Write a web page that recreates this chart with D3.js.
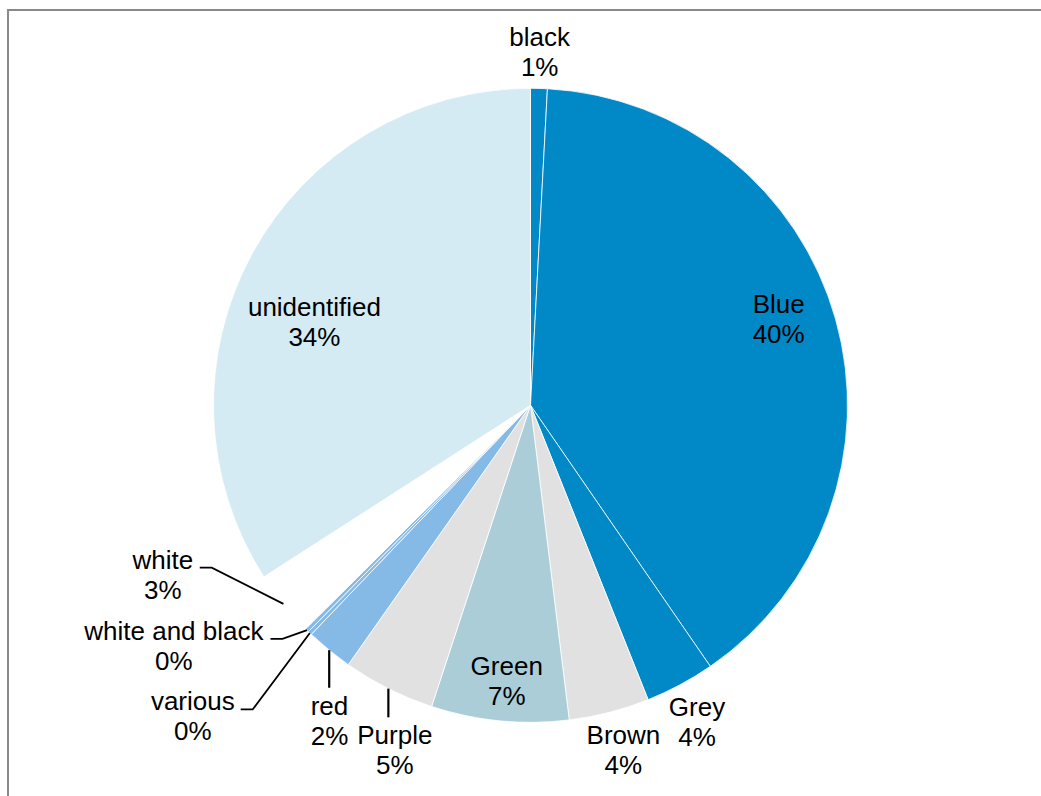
<!DOCTYPE html>
<html>
<head>
<meta charset="utf-8">
<script src="https://cdn.jsdelivr.net/npm/d3@7"></script>
<style>
  html, body { margin: 0; padding: 0; background: #ffffff; }
  svg { display: block; }
  text { font-family: "Liberation Sans", Arial, sans-serif; font-size: 26px; fill: #000; }
</style>
</head>
<body>
<svg id="chart" width="1041" height="796"></svg>
<script>
// Colour of item found, share of all items (percent)
const categories = ["black", "Blue", "Grey", "Brown", "Green", "Purple", "red",
                    "various", "white and black", "white", "unidentified"];
const shares = [0.85, 39.55, 3.55, 4.1, 7.0, 4.7, 2.4, 0.2, 0.2, 3.35, 34.1];
const sliceColors = ["#0089c6", "#0089c6", "#0089c6", "#e1e1e1", "#aacdd8", "#e1e1e1",
                     "#85bae7", "#85bae7", "#85bae7", "#ffffff", "#d4ebf4"];

// Label placement: turn from the slice's mid-angle (degrees), distance as a fraction of the radius,
// and how the leader line reaches the slice
const labelTurn   = [0, -1.55, 1.1, -0.3, -0.8, -5.67, -7.64, 2.43, 10.2, 12.9, -9.6];
const labelRadius = [1.085, 0.82, 1.154, 1.155, 0.901, 1.196, 1.204, 1.468, 1.373, 1.289, 0.721];
const leaderKind  = ["none", "none", "none", "none", "none", "drop", "drop",
                     "elbow", "elbow", "elbow", "none"];

const width = 1041, height = 796;
const cx = 530.5, cy = 405.3, radius = 317;
const lineGap = 30;

const svg = d3.select("#chart");

// Outer frame (only the top and left edges fall inside the view)
svg.append("rect")
  .attr("x", 8).attr("y", 10)
  .attr("width", width + 20).attr("height", height + 20)
  .attr("fill", "none")
  .attr("stroke", "#898989")
  .attr("stroke-width", 2);

const data = categories.map((c, i) => ({
  name: c, value: shares[i], color: sliceColors[i],
  turn: labelTurn[i], k: labelRadius[i], leader: leaderKind[i]
}));
const total = d3.sum(shares);

const pie = d3.pie().sort(null).value(d => d.value).startAngle(0).endAngle(2 * Math.PI);
const arcs = pie(data);
const arc = d3.arc().innerRadius(0).outerRadius(radius);

const g = svg.append("g").attr("transform", `translate(${cx},${cy})`);

g.selectAll("path.slice")
  .data(arcs)
  .join("path")
  .attr("class", "slice")
  .attr("d", arc)
  .attr("fill", d => d.data.color)
  .attr("stroke", "#ffffff")
  .attr("stroke-width", 0.8)
  .attr("stroke-linejoin", "round");

const polar = (angle, r) => [r * Math.sin(angle), -r * Math.cos(angle)];
const pct = v => Math.round(v / total * 100) + "%";

const labels = g.append("g");
const leaders = g.append("g");

arcs.forEach(a => {
  const d = a.data;
  const mid = (a.startAngle + a.endAngle) / 2;
  const [lx, ly] = polar(mid + d.turn * Math.PI / 180, radius * d.k);
  const base1 = ly - lineGap / 2;
  const base2 = ly + lineGap / 2;

  const t = labels.append("text").attr("text-anchor", "middle");
  t.append("tspan").attr("x", lx).attr("y", base1).text(d.name);
  t.append("tspan").attr("x", lx).attr("y", base2).text(pct(d.value));

  const [ax, ay] = polar(mid, radius);
  if (d.leader === "elbow") {
    const right = lx + t.node().getBBox().width / 2;
    const yy = base1 - 1;
    leaders.append("path")
      .attr("d", d3.line()([[right + 6, yy], [right + 18, yy], [ax, ay]]))
      .attr("fill", "none").attr("stroke", "#000").attr("stroke-width", 1.8);
  } else if (d.leader === "drop") {
    leaders.append("path")
      .attr("d", d3.line()([[ax, ay], [ax, base1 - 27]]))
      .attr("fill", "none").attr("stroke", "#000").attr("stroke-width", 2.2);
  }
});
</script>
</body>
</html>
